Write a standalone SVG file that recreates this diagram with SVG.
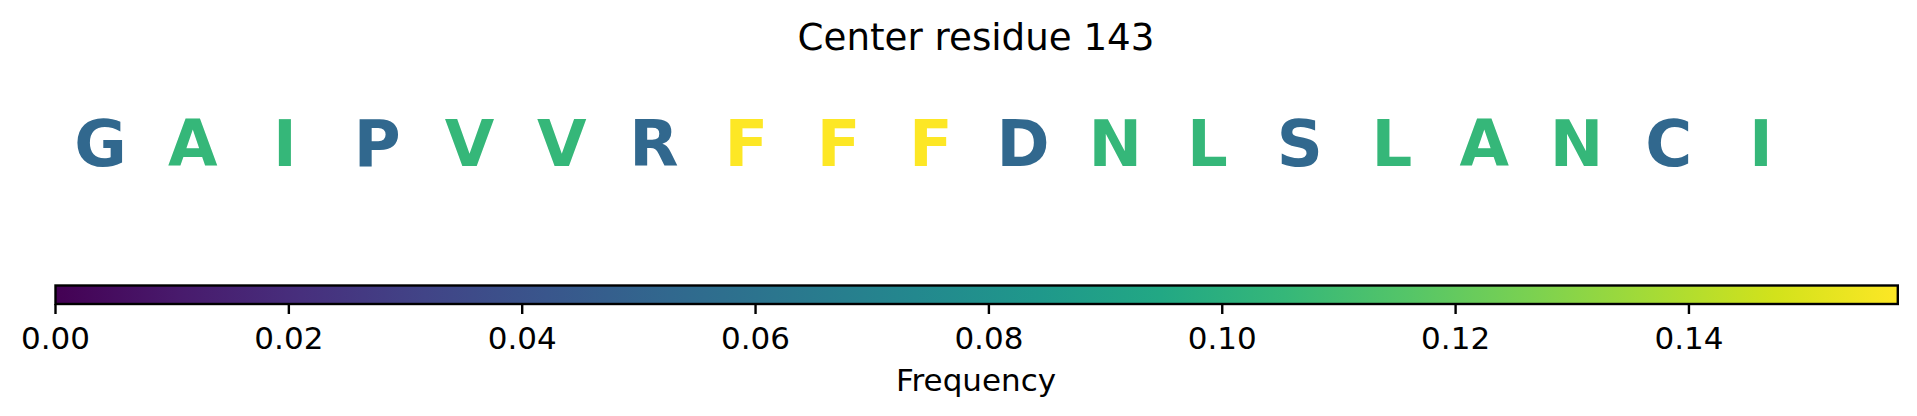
<svg xmlns="http://www.w3.org/2000/svg" width="1917" height="416" viewBox="0 0 1917 416">
<style>
text{font-family:"DejaVu Sans","Liberation Sans",sans-serif;fill:#000}
.t{font-size:37.2px;text-anchor:middle}
.tk{font-size:31px;text-anchor:middle}
.r{font-size:64px;font-weight:bold;text-anchor:middle}
.b{fill:#31688e}.g{fill:#35b779}.y{fill:#fde725}
.tick{stroke:#000;stroke-width:2.4}
</style>
<defs>
<linearGradient id="viridis" x1="0" y1="0" x2="1" y2="0">
<stop offset="0" stop-color="#440154"/>
<stop offset="0.0667" stop-color="#481a6c"/>
<stop offset="0.1333" stop-color="#472f7d"/>
<stop offset="0.2" stop-color="#414487"/>
<stop offset="0.2667" stop-color="#39568c"/>
<stop offset="0.3333" stop-color="#31688e"/>
<stop offset="0.4" stop-color="#2a788e"/>
<stop offset="0.4667" stop-color="#23888e"/>
<stop offset="0.5333" stop-color="#1f988b"/>
<stop offset="0.6" stop-color="#22a884"/>
<stop offset="0.6667" stop-color="#35b779"/>
<stop offset="0.7333" stop-color="#54c568"/>
<stop offset="0.8" stop-color="#7ad151"/>
<stop offset="0.8667" stop-color="#a5db36"/>
<stop offset="0.9333" stop-color="#d2e21b"/>
<stop offset="1" stop-color="#fde725"/>
</linearGradient>
</defs>
<rect width="1917" height="416" fill="#fff"/>
<text id="title" class="t" x="976" y="49.5">Center residue 143</text>
<g id="residues">
<text class="r b" x="100.5" y="166">G</text>
<text class="r g" x="192.75" y="166">A</text>
<text class="r g" x="285" y="166">I</text>
<text class="r b" x="377.25" y="166">P</text>
<text class="r g" x="469.5" y="166">V</text>
<text class="r g" x="561.75" y="166">V</text>
<text class="r b" x="654" y="166">R</text>
<text class="r y" x="746.25" y="166">F</text>
<text class="r y" x="838.5" y="166">F</text>
<text class="r y" x="930.75" y="166">F</text>
<text class="r b" x="1023" y="166">D</text>
<text class="r g" x="1115.25" y="166">N</text>
<text class="r g" x="1207.5" y="166">L</text>
<text class="r b" x="1299.75" y="166">S</text>
<text class="r g" x="1392" y="166">L</text>
<text class="r g" x="1484.25" y="166">A</text>
<text class="r g" x="1576.5" y="166">N</text>
<text class="r b" x="1668.75" y="166">C</text>
<text class="r g" x="1761" y="166">I</text>
</g>
<g id="colorbar">
<rect x="55.5" y="285.5" width="1842.3" height="18.5" fill="url(#viridis)" stroke="#000" stroke-width="2.4"/>
<g class="tick">
<line x1="55.5" y1="304" x2="55.5" y2="314"/>
<line x1="288.85" y1="304" x2="288.85" y2="314"/>
<line x1="522.2" y1="304" x2="522.2" y2="314"/>
<line x1="755.55" y1="304" x2="755.55" y2="314"/>
<line x1="988.9" y1="304" x2="988.9" y2="314"/>
<line x1="1222.25" y1="304" x2="1222.25" y2="314"/>
<line x1="1455.6" y1="304" x2="1455.6" y2="314"/>
<line x1="1688.95" y1="304" x2="1688.95" y2="314"/>
</g>
<text class="tk" x="55.5" y="348.5">0.00</text>
<text class="tk" x="288.85" y="348.5">0.02</text>
<text class="tk" x="522.2" y="348.5">0.04</text>
<text class="tk" x="755.55" y="348.5">0.06</text>
<text class="tk" x="988.9" y="348.5">0.08</text>
<text class="tk" x="1222.25" y="348.5">0.10</text>
<text class="tk" x="1455.6" y="348.5">0.12</text>
<text class="tk" x="1688.95" y="348.5">0.14</text>
<text class="tk" x="976" y="391">Frequency</text>
</g>
</svg>
